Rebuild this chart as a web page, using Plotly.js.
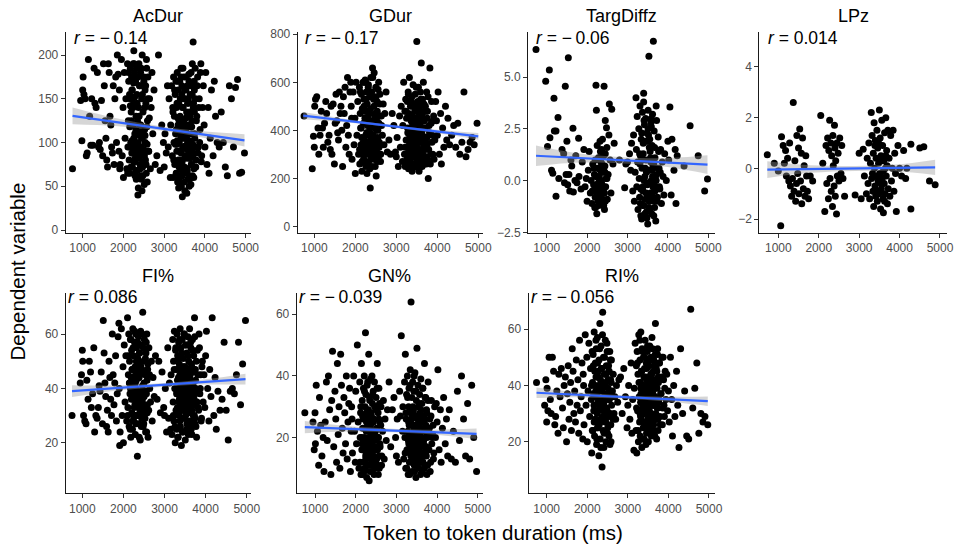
<!DOCTYPE html>
<html><head><meta charset="utf-8">
<script src="https://cdn.plot.ly/plotly-3.0.1.min.js"></script>
<style>html,body{margin:0;padding:0;background:#fff}#chart{width:957px;height:546px}</style>
</head><body><div id="chart"></div>
<script>
// ---------- DATA ----------
const panelTitles = ['AcDur', 'GDur', 'TargDiffz', 'LPz', 'FI%', 'GN%', 'RI%'];
const rValues = ['\u22120.14', '\u22120.17', '\u22120.06', '0.014', '0.086', '\u22120.039', '\u22120.056'];
const xTicks = [1000, 2000, 3000, 4000, 5000];

// token-to-token duration (ms), shared by AcDur, GDur, FI%, GN%, RI%
const tokenDur = [
 750,950,980,1000,1010,1030,1060,1090,1110,1140,1170,1200,1220,1250,1280,1300,1330,1360,1390,1410,1430,1460,1490,1510,1530,1550,1570,1590,1610,1630,1650,1670,1690,1710,1730,1750,1770,1790,1810,1830,1850,1870,1890,1910,
 1900,1920,1950,1970,1990,2000,2020,2040,2060,2080,
 2100,2110,2120,2130,2140,2150,2160,2170,2180,2190,
 2200,2205,2210,2220,2230,2240,2245,2250,2260,2270,
 2280,2285,2290,2300,2310,2320,2325,2330,2340,2350,
 2360,2365,2370,2380,2390,2400,2405,2410,2420,2430,
 2440,2445,2450,2460,2470,2480,2490,2500,2510,2520,
 2530,2540,2550,2560,2570,2580,2590,2600,2620,2640,
 2660,2680,2700,2720,2750,2780,2255,2355,2455,2155,
 2305,2395,2215,2495,2345,2265,2425,2315,2275,2385,
 2820,2860,2900,2940,2980,3000,3020,3050,3080,3100,3120,3150,
 3160,3180,3200,3210,3220,3230,3240,3250,3260,3270,
 3280,3290,3300,3305,3310,3320,3330,3340,3345,3350,
 3360,3370,3380,3385,3390,3400,3410,3420,3425,3430,
 3440,3450,3455,3460,3470,3480,3490,3500,3505,3510,
 3520,3530,3540,3545,3550,3560,3570,3580,3585,3590,
 3600,3610,3620,3625,3630,3640,3650,3660,3670,3680,
 3690,3700,3710,3720,3730,3740,3750,3760,3780,3800,
 3820,3840,3860,3880,3900,3920,3940,3355,3445,3555,
 3655,3405,3495,3605,3695,3315,3415,3515,3615,3475,
 3575,3375,3465,3565,3665,3435,3535,3635,3365,3595,
 3960,3980,4000,4020,4050,4080,4100,4130,4160,4200,4230,4260,4300,4350,4400,4450,4500,4550,4600,4650,4700,4750,4800,4850,4900,4970,
 2105,2125,2145,2165,2185,2195,2215,2225,2235,2255,
 2265,2275,2295,2305,2315,2335,2345,2355,2375,2385,
 2395,2415,2425,2435,2455,2465,2475,2485,2505,2515,
 2525,2535,2545,2555,2565,2575,2585,2595,2615,2635,
 2210,2290,2370,2450,2530,2170,2250,2330,2410,2490,
 3215,3235,3255,3275,3295,3315,3325,3335,3355,3365,
 3375,3395,3405,3415,3435,3445,3465,3475,3485,3495,
 3515,3525,3535,3555,3565,3575,3595,3605,3615,3635,
 3645,3655,3665,3675,3685,3705,3715,3725,3735,3745,
 3755,3765,3775,3790,3810,3830,3850,3870,3890,3910,
 3300,3380,3460,3540,3620,3700,3340,3420,3500,3580,
 3660,3740,3320,3400,3480,3560,3640,3720,3440,3520
];

const acDur = [
 70,148,102,160,175,155,150,85,88,195,130,97,150,97,185,145,140,180,95,100,92,148,85,190,165,125,105,80,72,190,180,130,120,95,88,165,75,150,175,100,200,178,90,70,
 160,75,195,85,140,60,180,105,150,70,
 190,95,125,170,80,155,65,185,100,135,
 175,88,160,72,120,190,95,145,78,180,
 110,62,170,92,130,185,82,155,68,175,
 100,48,140,190,85,165,75,120,180,95,
 58,150,105,200,72,135,88,170,52,115,
 160,80,145,65,185,98,125,175,90,150,
 70,140,180,110,160,75,205,40,45,118,
 68,108,140,92,125,100,62,85,152,112,
 85,200,68,120,100,72,110,88,165,95,150,60,
 120,165,85,140,60,175,100,130,75,155,
 110,170,65,140,90,180,55,120,160,80,
 145,100,170,62,130,90,175,50,115,155,
 78,140,95,185,68,125,105,160,45,85,
 150,112,175,70,135,92,165,58,120,145,
 82,170,102,135,60,155,95,180,75,125,
 190,88,215,145,70,160,105,185,80,130,
 175,95,150,115,190,85,140,48,38,42,
 52,108,72,118,62,98,88,96,58,150,
 100,118,112,65,110,165,128,82,72,150,
 165,120,95,180,75,140,65,105,160,85,170,130,100,95,135,100,72,62,165,150,95,163,172,65,66,88,
 65,180,95,150,72,125,160,88,140,105,
 190,78,170,115,58,145,98,175,82,130,
 165,70,120,185,92,155,62,110,175,85,
 140,100,165,75,195,118,55,150,90,128,
 102,82,96,73,108,142,168,88,112,78,
 135,80,160,98,65,145,112,170,58,125,
 90,150,70,185,105,62,140,95,175,55,
 120,82,160,108,68,145,92,178,50,130,
 100,165,75,118,155,85,140,60,170,110,
 95,150,72,125,165,88,140,100,180,78,
 115,90,68,105,85,98,128,75,110,92,
 60,135,102,80,118,70,95,88,122,108
];

const gDur = [
 460,240,375,330,500,530,540,410,300,380,480,410,330,430,520,470,350,380,320,500,300,510,260,430,550,440,390,360,560,470,500,400,250,540,470,580,330,420,620,380,300,560,600,450,
 500,280,560,340,450,220,600,380,520,300,
 580,260,470,410,340,550,230,490,320,600,
 430,280,530,360,480,610,300,450,250,560,
 390,220,510,330,440,590,270,470,350,540,
 410,160,490,620,300,560,250,420,660,340,
 380,530,290,640,360,470,310,580,210,440,
 520,270,400,350,600,330,460,550,300,420,
 380,510,340,470,560,310,600,240,420,370,
 450,320,500,280,390,350,430,300,480,360,
 360,300,470,420,310,290,370,250,460,330,500,270,
 420,600,300,480,250,530,360,450,280,520,
 390,560,240,470,330,620,270,410,500,300,
 440,350,540,230,460,380,590,260,420,510,
 310,480,370,550,250,400,340,770,280,450,
 520,360,580,240,470,320,500,270,430,560,
 300,680,390,460,250,530,350,600,290,440,
 410,320,500,370,260,560,340,480,200,420,
 660,300,520,380,440,280,360,240,300,230,
 260,400,330,480,270,390,310,350,290,430,
 250,370,320,280,340,410,300,380,260,350,
 520,440,380,560,300,470,260,410,330,500,360,450,340,380,420,330,430,300,350,560,290,320,350,370,340,430,
 320,560,410,270,490,350,600,300,450,380,
 530,260,420,340,580,310,470,390,550,290,
 440,360,620,280,500,330,460,250,540,400,
 310,480,370,570,290,430,350,510,270,460,
 340,390,310,420,360,300,450,380,330,410,
 330,480,270,410,550,300,380,460,250,520,
 340,430,290,500,370,260,450,320,580,280,
 400,350,490,240,420,310,530,270,390,470,
 300,440,360,510,260,410,330,480,290,370,
 450,280,540,320,390,260,430,350,300,460,
 320,380,290,350,410,270,360,330,400,310,
 280,370,340,300,390,320,260,350,310,380
];

const fiPct = [
 30,42,45,54,50,30,28,27,43,36,50,46,33,38,55,24,30,29,33,41,39,46,27,65,53,42,37,26,32,24,50,44,36,30,60,45,34,42,52,28,38,59,64,19,
 40,24,62,30,48,20,56,35,52,28,
 66,33,45,60,26,50,38,58,22,44,
 54,31,47,25,62,36,52,28,42,57,
 34,48,23,60,40,55,30,46,15,51,
 37,59,27,44,53,32,49,21,61,39,
 56,29,46,35,68,26,50,42,58,33,
 45,24,53,38,60,31,47,22,55,40,
 35,50,28,44,37,52,30,48,36,42,
 34,45,39,27,50,41,33,43,38,46,
 36,50,31,46,33,30,40,24,55,29,42,25,
 45,23,58,35,50,28,61,40,20,54,
 32,47,25,60,38,52,22,44,57,30,
 49,36,62,26,42,55,19,47,33,58,
 39,24,51,44,29,60,35,48,21,56,
 41,31,53,27,46,37,59,23,43,50,
 34,62,28,45,39,55,25,48,32,58,
 42,30,52,36,66,27,47,40,22,54,
 33,60,38,45,29,50,35,43,40,31,
 36,44,48,38,41,33,46,30,42,37,
 39,45,35,47,40,32,43,38,36,41,
 45,33,52,61,40,28,47,37,66,30,44,25,39,32,36,57,32,21,39,40,38,45,57,34,49,65,
 30,52,42,25,58,36,47,28,55,40,
 33,61,45,27,50,38,57,30,44,22,
 53,35,48,26,60,41,31,55,37,46,
 29,51,39,57,24,43,34,49,32,45,
 38,42,36,47,33,40,44,30,48,37,
 30,47,26,55,38,43,22,51,35,58,
 28,45,40,53,24,48,33,60,29,42,
 37,56,25,46,39,52,31,44,27,57,
 36,49,23,41,54,34,47,30,59,38,
 43,26,50,35,45,32,55,40,28,48,
 39,36,44,33,41,46,31,38,42,35,
 47,29,40,37,45,34,43,39,32,41
];

const gnPct = [
 28,25,16,28,18,37,22,11,33,24,14,20,9,25,38,19,40,29,8,32,48,17,35,26,12,44,21,30,10,47,37,23,15,33,28,18,40,13,25,31,36,9,22,26,
 30,15,40,22,12,35,18,50,25,10,
 38,20,28,8,44,16,32,23,12,36,
 27,9,40,19,30,54,14,34,22,7,
 37,17,26,11,29,47,20,6,33,15,
 24,39,13,28,18,40,9,31,21,35,
 14,26,8,38,19,30,12,33,23,16,
 44,11,28,20,36,10,25,17,30,14,
 22,32,13,26,19,29,15,24,21,18,
 27,12,20,16,23,25,11,19,14,22,
 38,17,29,33,20,14,26,12,35,27,53,22,
 30,13,38,20,47,10,26,34,16,40,
 22,8,30,18,36,12,25,42,15,28,
 64,20,33,9,24,38,14,29,19,35,
 11,27,41,17,23,7,32,21,49,13,
 26,37,16,30,10,24,34,18,28,12,
 39,22,15,31,9,25,36,19,27,14,
 44,23,11,33,17,29,8,21,38,16,
 26,12,32,20,24,15,30,18,22,13,
 27,19,23,25,17,21,28,14,20,24,
 18,26,16,22,19,23,12,25,21,17,
 20,31,25,42,16,29,12,23,33,18,26,14,29,13,22,12,35,19,40,26,14,31,13,37,20,9,
 12,30,20,8,26,16,35,10,23,18,
 28,14,38,11,24,19,32,9,21,27,
 15,34,12,25,17,30,10,22,29,13,
 36,16,20,8,26,14,31,18,24,11,
 19,23,15,21,17,27,13,25,16,20,
 15,28,10,33,19,24,8,37,14,26,
 21,12,30,17,40,9,23,16,35,11,
 27,20,13,31,18,25,8,29,15,22,
 36,12,19,26,10,33,17,24,14,28,
 20,11,32,16,23,9,27,18,21,13,
 25,15,19,22,12,26,17,20,14,23,
 18,16,21,24,13,19,22,15,20,17
];

const riPct = [
 41,33,42,27,39,31,50,35,30,50,45,26,29,38,23,44,36,46,32,25,40,43,20,37,47,28,34,41,24,53,45,30,38,27,49,33,42,23,56,31,36,48,21,40,
 44,26,58,33,50,20,38,55,29,46,
 35,16,52,41,24,47,31,59,22,40,
 48,27,36,53,19,43,30,57,25,45,
 34,15,49,38,62,21,42,28,54,32,
 46,11,39,66,24,50,33,18,44,36,
 27,56,40,20,47,31,52,23,42,35,
 29,45,37,19,49,26,41,33,38,44,
 30,36,28,40,34,42,25,39,32,37,
 35,31,43,29,38,34,36,27,40,33,
 43,30,46,36,25,33,40,28,48,23,35,17,
 39,55,24,47,16,52,31,44,20,58,
 36,27,49,22,41,59,29,45,18,53,
 34,40,25,50,37,21,46,30,56,26,
 43,33,48,23,38,52,28,42,20,35,
 47,31,54,25,40,36,50,22,44,29,
 38,53,27,45,33,49,24,41,36,62,
 30,46,21,39,51,28,43,34,48,26,
 37,50,32,42,29,45,35,31,40,27,
 33,38,30,36,41,34,39,28,37,32,
 35,40,31,38,34,36,29,42,33,37,
 44,31,38,27,50,35,22,40,29,45,33,18,53,30,38,22,21,67,32,39,48,23,30,27,29,26,
 40,24,51,33,45,28,56,36,21,48,
 31,43,26,53,38,18,46,34,58,29,
 41,23,50,37,27,44,32,55,25,39,
 47,22,35,52,30,42,20,49,36,28,
 38,33,41,30,45,27,36,40,34,31,
 32,48,24,41,56,29,37,45,21,52,
 34,43,27,50,38,19,46,31,54,25,
 40,35,49,23,44,30,57,33,42,26,
 47,36,22,51,39,28,45,32,53,24,
 41,35,48,29,37,43,26,50,33,39,
 30,36,42,28,34,40,31,38,27,44,
 35,32,39,30,37,33,41,29,36,34
];

const targX = [
 735,975,1020,1065,1080,1120,1150,1180,1190,1230,1230,1280,1300,1380,1420,1440,1460,1480,1500,1520,1535,1550,1570,1600,1620,1650,1660,1700,1720,1750,1790,1800,1850,1880,1920,
 1950,1980,2000,2030,2050,2080,2100,2120,2140,2160,2180,2200,2220,2230,2240,2250,2260,2280,2290,2300,
 2320,2330,2340,2350,2360,2370,2380,2390,2400,2410,2420,2430,2440,2450,2460,2480,2490,2500,2520,2540,
 2550,2570,2590,2610,2640,2670,
 2210,2270,2330,2390,2450,2310,2370,2430,2250,2190,2350,2410,2290,2470,2230,
 2130,2170,2210,2250,2290,2330,2370,2410,2450,2490,2200,2280,2360,2440,2320,
 2800,2930,2960,3000,3050,3080,3100,3130,
 3150,3170,3190,3210,3220,3230,3240,3250,3260,3280,3290,3300,3310,3320,3330,3340,3350,3360,3370,3380,
 3390,3400,3410,3420,3430,3440,3450,3460,3470,3480,3490,3500,3510,3520,3530,3540,3550,3560,3570,3580,
 3590,3600,3610,3620,3630,3640,3650,3660,3670,3680,3700,3710,3720,3740,3760,3780,3800,3820,3840,3860,
 3880,3900,3920,
 3320,3380,3440,3500,3560,3620,3680,3350,3410,3470,3530,3590,3650,3710,3300,3460,3520,3580,3640,3400,3480,3540,3600,3660,3720,
 3310,3330,3350,3370,3390,3410,3430,3450,3470,3490,3510,3530,3550,3570,3590,3610,3630,3650,3670,3690,3730,3750,3770,3790,3810,
 3960,4000,4020,4050,4080,4100,4150,4180,4200,4230,4400,4550,4750,4910,4980
];
const targDiffz = [
 6.33,4.8,1.65,5.34,2.07,0.5,0.35,3.98,2.4,2.4,-0.75,3.05,0.1,1.5,1.3,-0.1,4.55,0.3,1.9,-0.2,5.93,0.3,-0.5,1.0,0.7,2.53,-0.55,0.0,1.2,-0.1,2.05,0.2,-0.4,0.9,1.5,
 -0.3,0.1,-1.0,0.5,1.4,-0.6,0.0,-1.1,0.8,-0.2,0.3,-0.8,4.6,3.4,-1.6,0.6,-0.4,1.1,-1.2,0.2,
 1.9,-0.7,0.9,-0.1,1.5,-1.0,2.0,0.4,-0.5,1.2,4.55,-1.4,0.7,2.9,-0.3,2.55,1.6,-0.9,0.3,2.2,
 3.7,1.0,-0.6,3.45,0.8,1.8,
 0.2,-1.0,0.5,-0.9,1.3,-0.3,0.8,-0.6,1.7,-1.3,0.0,-1.2,0.6,0.1,-0.5,
 -0.5,0.6,-1.3,0.2,-0.8,1.4,-0.2,0.5,-1.0,0.1,1.0,-0.1,-0.9,0.4,-0.4,
 1.0,-0.35,0.8,0.9,1.3,0.5,1.8,-0.5,
 2.2,-1.0,0.4,4.0,1.5,-0.3,3.1,0.9,-1.4,2.5,0.1,-0.8,3.6,1.2,-1.7,2.0,-1.85,0.6,3.3,-0.5,
 1.8,4.22,-1.2,2.7,0.2,-0.9,3.0,1.0,-1.5,2.3,-0.2,-2.1,3.4,0.5,6.0,-1.0,2.0,1.4,-0.6,2.8,
 0.0,-1.6,1.7,3.2,-0.3,6.73,0.8,2.4,-1.3,1.1,-1.95,3.6,0.3,-0.8,2.1,0.6,-0.4,1.5,-1.1,0.9,
 0.2,-0.7,1.3,
 -1.1,-0.3,0.6,1.9,-0.9,0.2,-0.5,1.0,2.9,0.4,-1.3,2.6,-1.0,0.0,1.3,-0.6,2.2,0.9,-0.8,3.8,-1.8,1.6,0.5,-0.2,2.9,
 0.8,-0.4,2.3,-1.2,1.3,0.0,-1.6,1.9,0.5,-0.7,2.5,-0.1,-1.4,1.1,3.0,-0.9,0.7,-1.7,1.6,0.2,-1.0,0.6,1.4,-0.3,0.4,
 0.0,1.9,1.0,3.55,-0.7,2.0,0.5,1.5,-1.1,1.2,0.7,2.65,1.2,-0.5,0.08
];

const lpX = [
 728,900,1000,1060,1080,1120,1150,1180,1200,1230,1260,1280,1300,1330,1350,1370,1390,1410,1430,1450,
 1460,1480,1500,1510,1530,1550,1570,1580,1600,1620,1640,1660,1680,1700,1720,1750,1790,1850,
 2050,2100,2150,2180,2200,2220,2240,2250,2270,2280,2300,2310,2320,2340,2350,2360,2380,2390,2400,2410,
 2420,2440,2450,2460,2480,2500,2520,2550,2570,2600,2640,
 2900,3000,3050,3100,3130,3180,
 3200,3220,3240,3260,3280,3300,3310,3320,3340,3350,3360,3370,3380,3390,3400,3410,3420,3430,3440,3450,
 3460,3470,3480,3490,3500,3510,3520,3530,3540,3550,3560,3570,3580,3590,3600,3610,3620,3630,3640,3650,
 3660,3670,3680,3700,3710,3720,3740,3760,3780,3800,3820,3840,3860,3880,3900,3920,
 3330,3390,3450,3510,3570,3630,3690,3420,3480,3540,3600,3660,
 3960,4000,4050,4100,4150,4180,4280,4280,4500,4600,4740,4880
];
const lpz = [
 0.54,0.2,-0.1,-2.26,1.25,0.9,0.2,0.7,-0.3,0.4,-0.5,1.0,-0.7,-1.1,-0.4,2.6,-0.9,0.3,-1.3,-0.6,
 1.3,-0.2,0.8,-1.0,1.55,-0.5,0.6,-1.4,1.2,-0.8,0.1,-1.1,0.5,-0.3,-0.9,-1.2,-0.3,-0.5,
 2.08,0.2,-1.7,0.9,-0.6,1.2,-1.2,0.7,1.9,-0.4,1.0,-0.9,0.5,-1.5,1.3,0.1,-0.7,1.7,0.8,-1.1,
 0.3,-1.8,1.0,-0.3,0.6,-0.5,1.2,-0.2,0.9,-0.4,-1.1,
 -1.05,0.6,-1.2,0.75,-0.3,-1.0,
 0.4,-0.6,1.0,-1.2,0.2,2.2,-0.4,1.3,-0.9,0.6,-1.5,1.8,0.0,-0.7,1.1,-1.1,0.4,-0.3,1.5,-1.3,
 0.8,-0.5,0.2,-1.0,2.3,-0.2,1.2,-1.6,0.5,-0.8,1.9,-0.4,0.9,-1.2,-1.75,0.3,-0.6,1.4,-1.0,0.0,
 2.0,-0.3,0.7,-1.4,1.5,-0.8,0.4,-1.1,1.3,-0.5,0.0,1.5,-0.9,0.6,-0.2,-1.7,
 -0.2,0.9,-0.9,-0.4,0.3,-1.3,0.1,-1.0,1.0,-0.6,-0.1,0.5,
 0.9,0.0,-0.3,0.7,-0.4,0.0,0.95,-1.6,0.8,0.85,-0.5,-0.65
];

// linear fits with 95% confidence bands
const acDurFitX = [750, 1800, 2900, 3900, 4970];
const acDurFit  = [130.5, 123.5, 116.2, 109.6, 102.5];
const acDurLo   = [121, 119, 113.7, 106.1, 95.5];
const acDurHi   = [140, 128, 118.7, 113.1, 109.5];

const gDurFitX = [730, 1800, 2900, 3900, 5000];
const gDurFit  = [461, 439.5, 417.3, 397.2, 375];
const gDurLo   = [446, 432.5, 412.3, 391.2, 361];
const gDurHi   = [476, 446.5, 422.3, 403.2, 389];

const targFitX = [735, 1800, 2900, 3900, 4980];
const targFit  = [1.2, 1.09, 0.98, 0.88, 0.77];
const targLo   = [0.7, 0.87, 0.83, 0.68, 0.32];
const targHi   = [1.7, 1.31, 1.13, 1.08, 1.22];

const lpFitX = [728, 1800, 2900, 3900, 4880];
const lpFit  = [-0.05, -0.027, -0.003, 0.018, 0.04];
const lpLo   = [-0.38, -0.177, -0.103, -0.112, -0.26];
const lpHi   = [0.28, 0.123, 0.097, 0.148, 0.34];

const fiFitX = [750, 1800, 2900, 3900, 4970];
const fiFit  = [39.0, 40.1, 41.2, 42.3, 43.4];
const fiLo   = [36.8, 39.1, 40.5, 41.4, 41.4];
const fiHi   = [41.2, 41.1, 41.9, 43.2, 45.4];

const gnFitX = [750, 1800, 2900, 3900, 4970];
const gnFit  = [23.4, 22.85, 22.28, 21.76, 21.2];
const gnLo   = [21.4, 21.95, 21.68, 20.96, 19.5];
const gnHi   = [25.4, 23.75, 22.88, 22.56, 22.9];

const riFitX = [750, 1800, 2900, 3900, 4970];
const riFit  = [37.4, 36.65, 35.87, 35.16, 34.4];
const riLo   = [35.5, 35.75, 35.27, 34.36, 32.7];
const riHi   = [39.3, 37.55, 36.47, 35.96, 36.1];

// ---------- LAYOUT / DRAWING ----------
const W = 957, H = 546;
const px = v => v / W, py = v => 1 - v / H;
const panels = [
  {x: tokenDur, y: acDur, fx: acDurFitX, fy: acDurFit, lo: acDurLo, hi: acDurHi,
   xd: [65.7, 250.5], yd: [31.7, 233], xr: [583, 5118], yr: [-3.4, 226.7], dtick: 50, fmt: '', rx: 72, ry: 38, ty: 16},
  {x: tokenDur, y: gDur, fx: gDurFitX, fy: gDurFit, lo: gDurLo, hi: gDurHi,
   xd: [297.7, 483], yd: [31.7, 233], xr: [595, 5115], yr: [-27.4, 810.8], dtick: 200, fmt: '', rx: 303, ry: 38, ty: 16},
  {x: targX, y: targDiffz, fx: targFitX, fy: targFit, lo: targLo, hi: targHi,
   xd: [528, 715], yd: [31.7, 233], xr: [537, 5166], yr: [-2.53, 7.19], dtick: 2.5, fmt: '.1f', rx: 534, ry: 38, ty: 16},
  {x: lpX, y: lpz, fx: lpFitX, fy: lpFit, lo: lpLo, hi: lpHi,
   xd: [759.3, 946.7], yd: [31.7, 233], xr: [530, 5166], yr: [-2.55, 5.39], dtick: 2, fmt: '', rx: 766, ry: 38, ty: 16},
  {x: tokenDur, y: fiPct, fx: fiFitX, fy: fiFit, lo: fiLo, hi: fiHi,
   xd: [65.7, 250.5], yd: [293.3, 493.3], xr: [596, 5092], yr: [1.4, 75.0], dtick: 20, fmt: '', rx: 66, ry: 297, ty: 276},
  {x: tokenDur, y: gnPct, fx: gnFitX, fy: gnFit, lo: gnLo, hi: gnHi,
   xd: [296.7, 483], yd: [293.3, 493.3], xr: [550, 5128], yr: [1.9, 66.8], dtick: 20, fmt: '', rx: 297, ry: 297, ty: 276},
  {x: tokenDur, y: riPct, fx: riFitX, fy: riFit, lo: riLo, hi: riHi,
   xd: [528.5, 715], yd: [293.3, 493.3], xr: [552, 5148], yr: [1.7, 72.7], dtick: 20, fmt: '', rx: 529, ry: 297, ty: 276}
];

const FONT = 'Liberation Sans, Arial, Helvetica, sans-serif';
const traces = [];
const layout = {
  width: W, height: H, margin: {l: 0, r: 0, t: 0, b: 0},
  paper_bgcolor: '#fff', plot_bgcolor: '#fff', showlegend: false,
  font: {family: FONT, color: '#000'}, annotations: []
};

panels.forEach((p, i) => {
  const n = i + 1;
  const xa = 'x' + (n === 1 ? '' : n), ya = 'y' + (n === 1 ? '' : n);
  traces.push({type: 'scatter', mode: 'markers', x: p.x, y: p.y, xaxis: xa, yaxis: ya,
    marker: {color: '#000', size: 7, line: {width: 0}}, hoverinfo: 'skip', cliponaxis: false});
  traces.push({type: 'scatter', mode: 'lines', x: p.fx, y: p.lo, xaxis: xa, yaxis: ya,
    line: {width: 0, shape: 'spline'}, hoverinfo: 'skip'});
  traces.push({type: 'scatter', mode: 'lines', x: p.fx, y: p.hi, xaxis: xa, yaxis: ya,
    line: {width: 0, shape: 'spline'}, fill: 'tonexty', fillcolor: 'rgba(153,153,153,0.4)', hoverinfo: 'skip'});
  traces.push({type: 'scatter', mode: 'lines', x: p.fx, y: p.fy, xaxis: xa, yaxis: ya,
    line: {color: '#3366FF', width: 2.2}, hoverinfo: 'skip'});

  layout['xaxis' + (n === 1 ? '' : n)] = {
    domain: [px(p.xd[0]), px(p.xd[1])], range: p.xr, anchor: ya,
    showgrid: false, zeroline: false, showline: true, linecolor: '#1a1a1a', linewidth: 1,
    ticks: 'outside', ticklen: 4, tickwidth: 1, tickcolor: '#333',
    tickmode: 'array', tickvals: xTicks, ticktext: xTicks.map(String),
    tickfont: {family: FONT, size: 12, color: '#4d4d4d'}, fixedrange: true
  };
  layout['yaxis' + (n === 1 ? '' : n)] = {
    domain: [py(p.yd[1]), py(p.yd[0])], range: p.yr, anchor: xa,
    showgrid: false, zeroline: false, showline: true, linecolor: '#1a1a1a', linewidth: 1,
    ticks: 'outside', ticklen: 4, tickwidth: 1, tickcolor: '#333',
    tick0: 0, dtick: p.dtick, tickformat: p.fmt,
    tickfont: {family: FONT, size: 12, color: '#4d4d4d'}, fixedrange: true
  };
  layout.annotations.push({xref: 'paper', yref: 'paper', x: px((p.xd[0] + p.xd[1]) / 2), y: py(p.ty),
    text: panelTitles[i], showarrow: false, xanchor: 'center', yanchor: 'middle',
    font: {family: FONT, size: 18, color: '#000'}});
  layout.annotations.push({xref: 'paper', yref: 'paper', x: px(p.rx), y: py(p.ry),
    text: '<i>r</i> = ' + rValues[i].replace('\u2212', '\u2212\u2009'), showarrow: false, xanchor: 'left', yanchor: 'middle',
    font: {family: FONT, size: 17.5, color: '#000'}});
});

layout.annotations.push({xref: 'paper', yref: 'paper', x: px(492.5), y: py(532),
  text: 'Token to token duration (ms)', showarrow: false, xanchor: 'center', yanchor: 'middle',
  font: {family: FONT, size: 20.5, color: '#000'}});
layout.annotations.push({xref: 'paper', yref: 'paper', x: px(17), y: py(271.5),
  text: 'Dependent variable', showarrow: false, textangle: -90, xanchor: 'center', yanchor: 'middle',
  font: {family: FONT, size: 20.5, color: '#000'}});

Plotly.newPlot('chart', traces, layout, {displayModeBar: false, staticPlot: true});
</script>
</body></html>
